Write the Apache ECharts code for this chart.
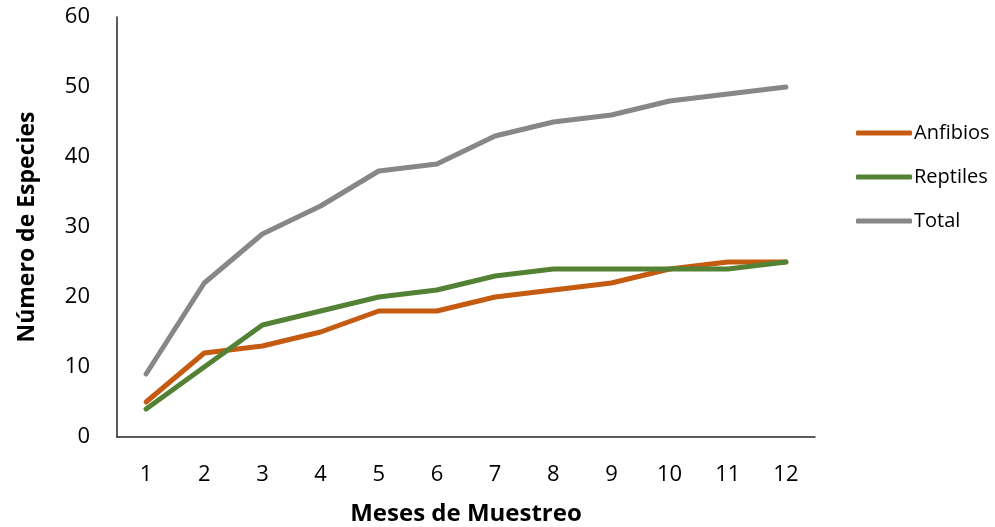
<!DOCTYPE html>
<html>
<head>
<meta charset="utf-8">
<script src="https://cdn.jsdelivr.net/npm/echarts@6/dist/echarts.min.js"></script>
<style>
  html, body { margin: 0; padding: 0; background: #fff; }
  #main { width: 995px; height: 527px; }
</style>
</head>
<body>
<div id="main"></div>
<script>
const meses = ['1', '2', '3', '4', '5', '6', '7', '8', '9', '10', '11', '12']
const anfibios = [5, 12, 13, 15, 18, 18, 20, 21, 22, 24, 25, 25]
const reptiles = [4, 10, 16, 18, 20, 21, 23, 24, 24, 24, 24, 25]
const total = [9, 22, 29, 33, 38, 39, 43, 45, 46, 48, 49, 50]

const font = '"Open Sans", sans-serif'
const lineSeries = (name, data, color) => ({
  name: name,
  type: 'line',
  data: data,
  symbol: 'none',
  lineStyle: { width: 5, color: color, cap: 'round', join: 'round' },
  itemStyle: { color: color }
})

const chart = echarts.init(document.getElementById('main'))
chart.setOption({
  animation: false,
  textStyle: { fontFamily: font },
  grid: { left: 117, top: 17, right: 180, bottom: 90, containLabel: false, outerBoundsMode: 'none' },
  legend: {
    orient: 'vertical',
    left: 851,
    top: 118,
    icon: 'roundRect',
    itemWidth: 56,
    itemHeight: 5,
    itemGap: 24,
    textStyle: { fontFamily: font, fontSize: 20, color: '#000', padding: [0, 0, 0, -3] },
    data: ['Anfibios', 'Reptiles', 'Total']
  },
  xAxis: {
    type: 'category',
    data: meses,
    boundaryGap: true,
    name: 'Meses de Muestreo',
    nameLocation: 'middle',
    nameGap: 65,
    nameTextStyle: { fontFamily: font, fontSize: 24, fontWeight: 'bold', color: '#000' },
    axisLine: { lineStyle: { color: '#262626', width: 1.5 } },
    axisTick: { show: false },
    axisLabel: { fontSize: 22, color: '#000', margin: 27 }
  },
  yAxis: {
    type: 'value',
    min: 0,
    max: 60,
    interval: 10,
    name: 'Número de Especies',
    nameLocation: 'middle',
    nameGap: 78,
    nameTextStyle: { fontFamily: font, fontSize: 23, fontWeight: 'bold', color: '#000' },
    axisLine: { show: true, lineStyle: { color: '#262626', width: 1.5 } },
    axisTick: { show: false },
    splitLine: { show: false },
    axisLabel: { fontSize: 22, color: '#000', margin: 27 }
  },
  series: [
    lineSeries('Anfibios', anfibios, '#C55A11'),
    lineSeries('Reptiles', reptiles, '#548235'),
    lineSeries('Total', total, '#878787')
  ]
})
</script>
</body>
</html>
